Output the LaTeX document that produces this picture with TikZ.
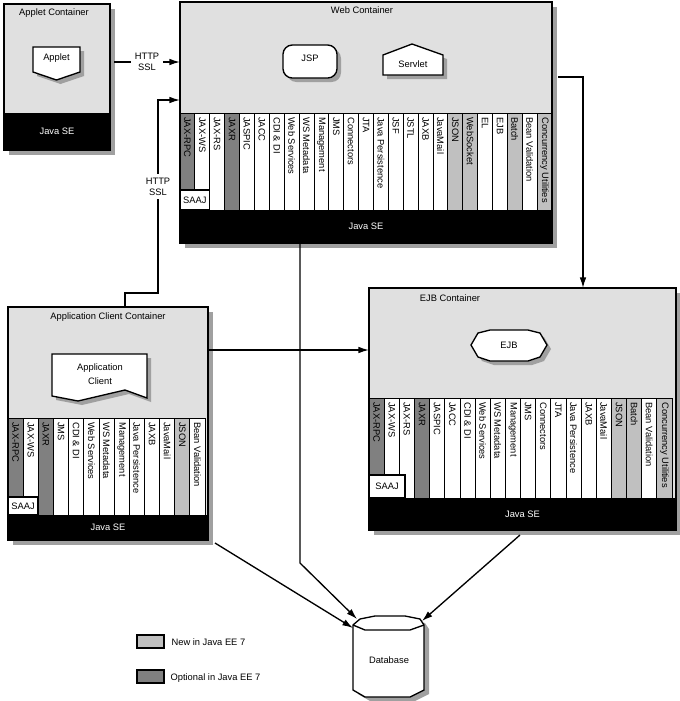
\documentclass[tikz,border=0pt]{standalone}
\usepackage{fontspec}
\setmainfont{Liberation Sans}
\usetikzlibrary{arrows.meta,fit}
\definecolor{colw}{RGB}{255,255,255}
\definecolor{cold}{RGB}{128,128,128}
\definecolor{coll}{RGB}{192,192,192}
\definecolor{contc}{RGB}{224,224,224}
\definecolor{shadowc}{RGB}{160,160,160}
\tikzset{
  api/.style={font=\fontsize{7}{8}\selectfont, inner sep=0pt},
  lbl/.style={font=\fontsize{7}{8}\selectfont, inner sep=1pt},
  conn/.style={line width=1pt,-{Latex[length=8pt,width=5pt]}},
  shp/.style={draw, line width=1pt, fill=white},
}
\newcommand\cont[6]{% name x0 y0 x1 y1 yblack
  \fill[shadowc] (#2+5,#3+5) rectangle (#4+5,#5+5);
  \fill[contc] (#2,#3) rectangle (#4,#5);
  \fill[black] (#2,#6) rectangle (#4,#5);
  \draw[line width=1pt] (#2,#3) rectangle (#4,#5);
  \coordinate (#1-a) at (#2,#3); \coordinate (#1-b) at (#4,#5);
  \node[fit=(#1-a)(#1-b), inner sep=0pt] (#1) {};
  \node[lbl, text=white] (#1-se) at ({(#2+#4)/2},{(#6+#5)/2}) {Java SE};
}
\newcommand\apistrip[8]{% x0 x1 ytop ysaaj ybot n saajw list
  \pgfmathsetmacro\cw{(#2-#1)/#6}
  \foreach \lab/\ty [count=\i from 0] in {#8}{
    \pgfmathsetmacro\xa{#1+\i*\cw}
    \pgfmathsetmacro\xb{\xa+\cw}
    \draw[fill=col\ty, line width=0.6pt] (\xa,#3) rectangle (\xb,#5);
    \node[api, anchor=west, rotate=-90] at ({\xa+\cw/2},#3+4) {\lab};
  }
  \draw[fill=white, line width=0.8pt] (#1,#4) rectangle (#1+#7,#5);
  \node[api] at ({#1+#7/2},{(#4+#5)/2}) {SAAJ};
}
\begin{document}
\begin{tikzpicture}[x=0.75pt,y=-0.75pt]
\useasboundingbox (0,0) rectangle (680,701);

% Applet container
\cont{applet}{4}{4}{110}{150}{113}
\node[lbl] at (54,13) {Applet Container};
\fill[shadowc] (37,51) -- (84,51) -- (84,76) -- (60.5,84) -- (37,76) -- cycle;
\draw[shp] (33,47) -- (80,47) -- (80,72) -- (56.5,80) -- (33,72) -- cycle;
\node[lbl] (appletn) at (56.5,58) {Applet};

% Web container
\cont{web}{180}{2}{552}{243}{210}
\node[lbl] at (362,10) {Web Container};
\fill[shadowc, rounded corners=7pt] (287,49) rectangle (341,82);
\draw[shp, rounded corners=7pt] (283,45) rectangle (337,78);
\node[lbl] (jsp) at (310,58) {JSP};
\fill[shadowc] (387,59) -- (416,48) -- (447,59) -- (447,79) -- (387,79) -- cycle;
\draw[shp] (383,55) -- (412,44) -- (443,55) -- (443,75) -- (383,75) -- cycle;
\node[lbl] (servlet) at (413,64) {Servlet};
\apistrip{180}{552}{113}{190}{210}{25}{29.8}{JAX-RPC/d, JAX-WS/w, JAX-RS/w, JAXR/d, JASPIC/w, JACC/w, CDI \& DI/w, Web Services/w, WS Metadata/w, Management/w, JMS/w, Connectors/w, JTA/w, Java Persistence/w, JSF/w, JSTL/w, JAXB/w, JavaMail/w, JSON/l, WebSocket/l, EL/w, EJB/w, Batch/l, Bean Validation/w, Concurrency Utilities/l}
\draw[line width=1pt] (180,2) rectangle (552,243);

% EJB container
\cont{ejb}{369}{288}{676}{530}{498}
\node[lbl] at (450,298) {EJB Container};
\fill[shadowc] (482,337) -- (494,334) -- (532,334) -- (544,337) -- (551,349) -- (544,361) -- (532,365) -- (494,365) -- (482,361) -- (475,349) -- cycle;
\draw[shp] (478,333) -- (490,330) -- (528,330) -- (540,333) -- (547,345) -- (540,357) -- (528,361) -- (490,361) -- (478,357) -- (471,345) -- cycle;
\node[lbl] (ejbn) at (509,345) {EJB};
\apistrip{369}{672}{398}{475}{498}{20}{36}{JAX-RPC/d, JAX-WS/w, JAX-RS/w, JAXR/d, JASPIC/w, JACC/w, CDI \& DI/w, Web Services/w, WS Metadata/w, Management/w, JMS/w, Connectors/w, JTA/w, Java Persistence/w, JAXB/w, JavaMail/w, JSON/l, Batch/l, Bean Validation/w, Concurrency Utilities/l}
\draw[line width=1pt] (369,288) rectangle (676,530);

% Application client container
\cont{acc}{8}{307}{208}{540}{515}
\node[lbl] at (108,317) {Application Client Container};
\fill[shadowc] (56,358) -- (151,358) -- (151,402) -- (129,394) -- (82,405) -- (56,400) -- cycle;
\draw[shp] (52,354) -- (147,354) -- (147,398) -- (125,390) -- (78,401) -- (52,396) -- cycle;
\node[lbl, align=center] (appclient) at (100,374) {Application\\[2pt]Client};
\apistrip{8}{205}{418}{497}{515}{13}{30}{JAX-RPC/d, JAX-WS/w, JAXR/d, JMS/w, CDI \& DI/w, Web Services/w, WS Metadata/w, Management/w, Java Persistence/w, JAXB/w, JavaMail/w, JSON/l, Bean Validation/w}
\draw[line width=1pt] (8,307) rectangle (208,540);

% Database
\fill[shadowc] (358,629) -- (365,623) -- (380,620) -- (410,620) -- (425,623) -- (429,629) -- (429,694) -- (415,701) -- (370,701) -- (358,694) -- cycle;
\draw[shp] (353,625) -- (360,619) -- (375,616) -- (405,616) -- (420,619) -- (424,625) -- (424,690) -- (410,697) -- (365,697) -- (353,690) -- cycle;
\draw[line width=1pt] (353,625) -- (365,630) -- (410,630) -- (424,625);
\node[lbl] (db) at (389,660) {Database};
\coordinate (dbTL) at (357,619);
\coordinate (dbL) at (353,628);
\coordinate (dbTR) at (422,621);

% Connectors
\coordinate (appletR) at (114,62);
\coordinate (webL1) at (180,62);
\draw[conn] (appletR) -- node[lbl, fill=white, align=center, inner sep=3pt] {HTTP\\SSL} (webL1);
\coordinate (accT) at (125,307);
\coordinate (webL2) at (180,100);
\draw[conn] (accT) -- (125,293) -- (158,293) -- node[pos=0.55, lbl, fill=white, align=center, inner sep=3pt] {HTTP\\SSL} (158,100) -- (webL2);
\coordinate (accR) at (208,350);
\coordinate (ejbL) at (369,350);
\draw[conn] (accR) -- (ejbL);
\coordinate (webR) at (558,77);
\coordinate (ejbT) at (583,288);
\draw[conn] (webR) -- (583,77) -- (ejbT);
\coordinate (webB) at (300,243);
\draw[conn] (webB) -- (300,563) -- (dbTL);
\coordinate (accB) at (215,543);
\draw[conn] (accB) -- (dbL);
\coordinate (ejbB) at (520,535);
\draw[conn] (ejbB) -- (dbTR);

% Legend
\draw[fill=coll, line width=1pt] (137,635) rectangle (164,648);
\node[lbl, anchor=west] (leg1) at (170,642) {New in Java EE 7};
\draw[fill=cold, line width=1pt] (137,670) rectangle (164,683);
\node[lbl, anchor=west] (leg2) at (169,678) {Optional in Java EE 7};
\end{tikzpicture}
\end{document}
